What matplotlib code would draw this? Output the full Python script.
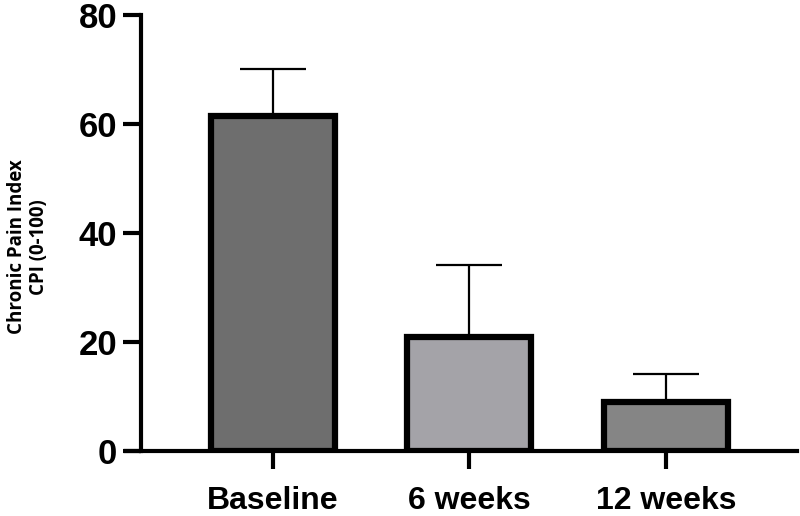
import matplotlib
matplotlib.use("Agg")
import matplotlib.pyplot as plt

categories = ["Baseline", "6 weeks", "12 weeks"]
means = [61.4, 21.0, 9.0]
sd_upper = [8.6, 13.1, 5.1]
colors = ["#6e6e6e", "#a4a3a8", "#858585"]
yticks = [0, 20, 40, 60, 80]

plt.rcParams['font.family'] = ['Liberation Sans', 'DejaVu Sans']

fig = plt.figure(figsize=(8, 5.16), dpi=100)
ax = fig.add_axes([0.176, 0.126, 0.82, 0.845])

x = list(range(len(categories)))
ax.errorbar(x, means, yerr=[[0]*3, sd_upper], fmt='none', ecolor='black',
            elinewidth=1.6, capsize=24, capthick=1.6, zorder=1)
ax.bar(x, means, width=0.63, color=colors, edgecolor='black', linewidth=4.5, zorder=2)

ax.set_xlim(-0.672, 2.667)
ax.set_ylim(0, 80)
ax.set_yticks(yticks)
ax.set_xticks(x)
ax.set_xticklabels(categories, fontsize=23, fontweight='bold')
ax.set_yticklabels([str(v) for v in yticks], fontsize=25, fontweight='bold')

for s in ['top', 'right']:
    ax.spines[s].set_visible(False)
for s in ['left', 'bottom']:
    ax.spines[s].set_linewidth(3)
ax.tick_params(axis='both', width=3, length=13, direction='out')
ax.tick_params(axis='y', pad=4)
ax.tick_params(axis='x', pad=12)

# extend baseline of x axis left under the y tick
ax.plot([-0.672 - 0.087, -0.672], [0, 0], color='black', lw=3, clip_on=False,
        solid_capstyle='butt', zorder=3)

ax.set_ylabel("Chronic Pain Index\nCPI (0-100)", fontsize=13.5, fontweight='bold',
              family=['Open Sans', 'DejaVu Sans'], linespacing=1.15)
ax.yaxis.set_label_coords(-0.14, 0.468)

fig.savefig("out.png", dpi=100)
